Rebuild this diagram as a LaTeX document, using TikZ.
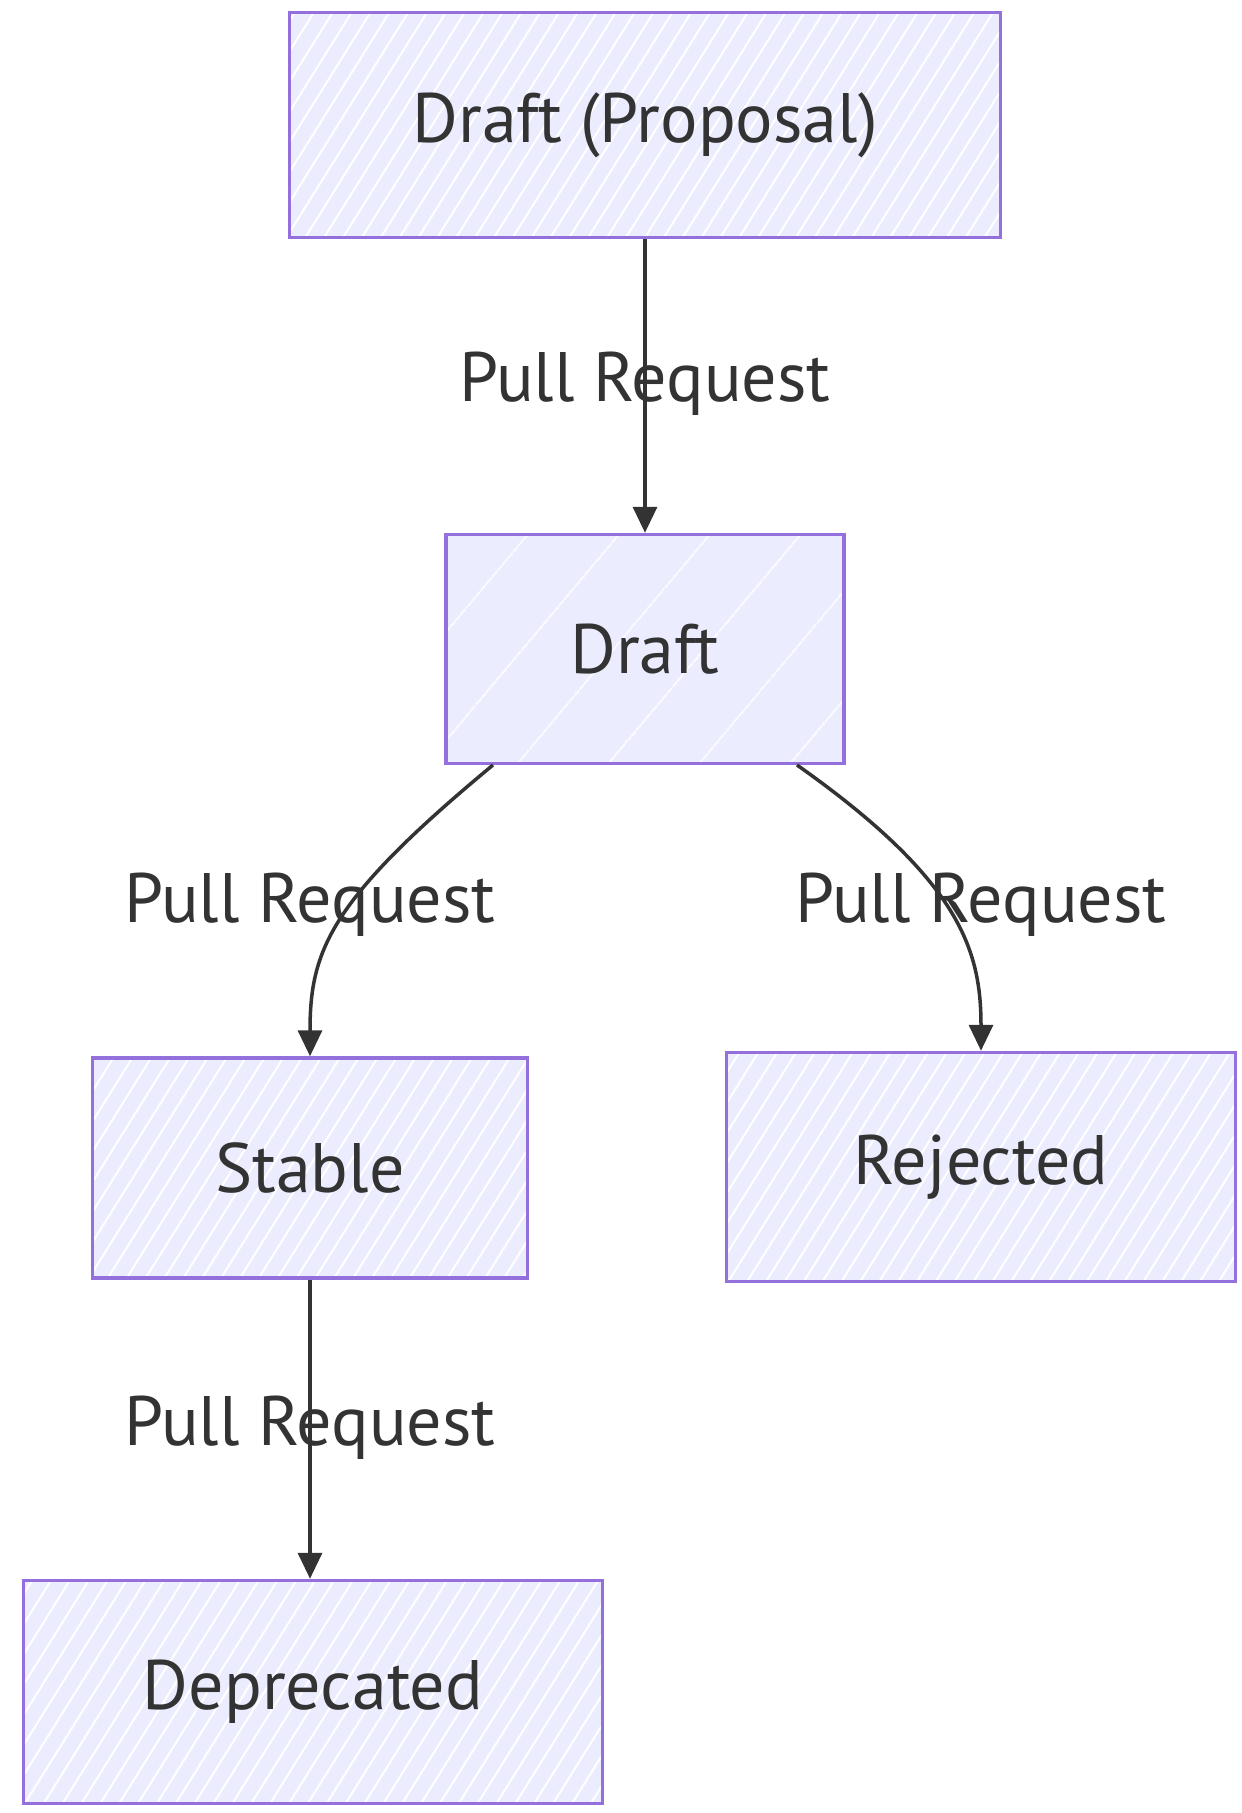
\documentclass[tikz,border=0pt]{standalone}
\usepackage{fontspec}
\setmainfont{PT Sans}
\usetikzlibrary{patterns.meta,arrows.meta}
\definecolor{boxfill}{HTML}{ECECFF}
\definecolor{boxline}{HTML}{9370DB}
\definecolor{ink}{HTML}{333333}
\tikzset{
  statebox/.style={draw=boxline, line width=3.5pt, rectangle, inner sep=0pt,
    preaction={fill=boxfill},
    preaction={pattern={Lines[angle=58,distance=16pt,line width=2pt]}, pattern color=white},
    font=\fontsize{70}{74}\selectfont, text=ink},
  sparsebox/.style={draw=boxline, line width=3.5pt, rectangle, inner sep=0pt,
    preaction={fill=boxfill},
    preaction={pattern={Lines[angle=50,distance=70pt,line width=1.5pt]}, pattern color=white},
    font=\fontsize{70}{74}\selectfont, text=ink},
  lbl/.style={font=\fontsize{70}{74}\selectfont, text=ink, inner sep=0pt},
  conn/.style={draw=ink, line width=3.5pt, -{Triangle[length=26pt,width=24pt]}}
}
\begin{document}
\begin{tikzpicture}[x=1pt,y=-1pt]
\useasboundingbox (0,0) rectangle (1242,1813);
\node[statebox, minimum width=711pt, minimum height=225pt] (prop) at (645,125) {Draft (Proposal)};
\node[sparsebox, minimum width=398pt, minimum height=229pt] (draft) at (645,649) {Draft};
\node[statebox, minimum width=435pt, minimum height=220pt] (stable) at (310,1168) {Stable};
\node[statebox, minimum width=509pt, minimum height=229pt] (rej) at (981,1167) {Rejected};
\node[statebox, minimum width=579pt, minimum height=223pt] (dep) at (313,1692) {Deprecated};
\coordinate (dl) at (493,765);
\coordinate (dr) at (797,765);
\draw[conn] (prop.south) -- (draft.north);
\draw[conn] (dl) .. controls (330,900) and (310,950) .. (stable.north);
\draw[conn] (dr) .. controls (960,880) and (981,950) .. (rej.north);
\draw[conn] (stable.south) -- (dep.north-|stable.south);
\node[lbl] (l1) at (645,384) {Pull Request};
\node[lbl] (l2) at (310,905) {Pull Request};
\node[lbl] (l3) at (981,905) {Pull Request};
\node[lbl] (l4) at (310,1428) {Pull Request};
\end{tikzpicture}
\end{document}
